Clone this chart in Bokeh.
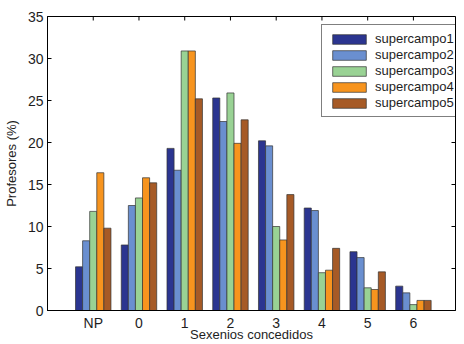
import math
from bokeh.plotting import figure
from bokeh.models import (ColumnDataSource, Range1d, FixedTicker, Legend, LegendItem)
from bokeh.transform import dodge
from bokeh.embed import file_html
from bokeh.resources import INLINE

categories = ["NP", "0", "1", "2", "3", "4", "5", "6"]
series_names = ["supercampo1", "supercampo2", "supercampo3", "supercampo4", "supercampo5"]
supercampo1 = [5.2, 7.8, 19.3, 25.3, 20.2, 12.2, 7.0, 2.9]
supercampo2 = [8.3, 12.5, 16.7, 22.5, 19.6, 11.9, 6.3, 2.1]
supercampo3 = [11.8, 13.4, 30.9, 25.9, 10.0, 4.5, 2.7, 0.7]
supercampo4 = [16.4, 15.8, 30.9, 19.9, 8.4, 4.8, 2.5, 1.2]
supercampo5 = [9.8, 15.2, 25.2, 22.7, 13.8, 7.4, 4.6, 1.2]
y_ticks = [0, 5, 10, 15, 20, 25, 30, 35]

colors = ["#2b3590", "#6a8fd0", "#99d294", "#f7941e", "#a65a26"]
FONT = "Liberation Sans"
TXT = "#1e1e1e"

X0, X1 = 0, 8.92
Y0, Y1 = 0, 35

xpos = list(range(1, len(categories) + 1))
source = ColumnDataSource(dict(x=xpos, supercampo1=supercampo1, supercampo2=supercampo2,
                               supercampo3=supercampo3, supercampo4=supercampo4,
                               supercampo5=supercampo5))

p = figure(width=456, height=344, x_range=Range1d(X0, X1), y_range=Range1d(Y0, Y1),
           toolbar_location=None, output_backend="svg",
           min_border_left=39, min_border_right=1, min_border_top=16, min_border_bottom=34)
p.background_fill_color = "white"
p.border_fill_color = "white"
p.outline_line_color = "black"
p.outline_line_width = 1
p.xgrid.visible = False
p.ygrid.visible = False

bw = 0.155
renderers = []
for i, name in enumerate(series_names):
    r = p.vbar(x=dodge("x", (i - 2) * bw, range=p.x_range), top=name, width=bw,
               source=source, fill_color=colors[i], line_color="#333333",
               line_alpha=0.7, line_width=1)
    renderers.append(r)

xticker = FixedTicker(ticks=xpos)
yticker = FixedTicker(ticks=y_ticks)

xa = p.xaxis[0]
xa.ticker = xticker
xa.major_label_overrides = {x: c for x, c in zip(xpos, categories)}
xa.major_tick_in = 0
xa.major_tick_out = 0
xa.minor_tick_line_color = None
xa.axis_line_color = "black"
xa.major_label_standoff = 4
xa.major_label_text_font = FONT
xa.major_label_text_font_size = "14px"
xa.major_label_text_color = TXT
xa.axis_label = "Sexenios concedidos"
xa.axis_label_text_font = FONT
xa.axis_label_text_font_style = "normal"
xa.axis_label_text_font_size = "13px"
xa.axis_label_text_color = TXT
xa.axis_label_standoff = -7

ya = p.yaxis[0]
ya.ticker = yticker
ya.major_tick_in = 4
ya.major_tick_out = 0
ya.minor_tick_line_color = None
ya.axis_line_color = "black"
ya.major_label_standoff = 4
ya.major_label_text_font = FONT
ya.major_label_text_font_size = "14px"
ya.major_label_text_color = TXT
ya.axis_label = "Profesores (%)"
ya.axis_label_text_font = FONT
ya.axis_label_text_font_style = "normal"
ya.axis_label_text_font_size = "13px"
ya.axis_label_text_color = TXT
ya.axis_label_standoff = 6

# inward tick marks on the top and right edges of the box (half of each dash is clipped)
p.scatter(x=xpos, y=[Y1] * len(xpos), marker="dash", size=8, angle=math.pi / 2,
          line_color="black", line_width=1)
p.scatter(x=[X1] * len(y_ticks), y=y_ticks, marker="dash", size=8,
          line_color="black", line_width=1)

legend = Legend(items=[LegendItem(label=n, renderers=[r]) for n, r in zip(series_names, renderers)],
                location=(274, 193), glyph_width=42, glyph_height=12, label_height=12,
                spacing=1, padding=6, margin=0, label_standoff=5,
                label_text_font=FONT, label_text_font_size="13px", label_text_color=TXT,
                label_text_line_height=1.0,
                border_line_color="black", border_line_width=1.5,
                background_fill_color="white", background_fill_alpha=1)
p.add_layout(legend, "center")

open("out.html", "w").write(file_html(p, INLINE))
